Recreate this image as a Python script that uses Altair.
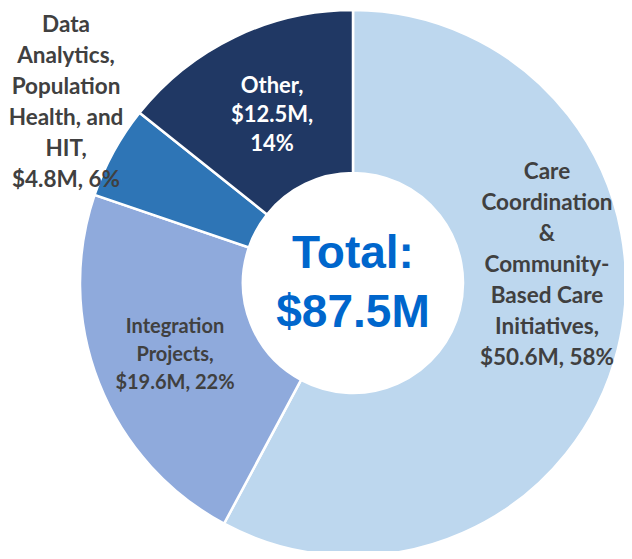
import altair as alt
import pandas as pd

categories = [
    "Care Coordination & Community-Based Care Initiatives",
    "Integration Projects",
    "Data Analytics, Population Health, and HIT",
    "Other",
]
values = [50.6, 19.6, 4.8, 12.5]
percents = [58, 22, 6, 14]
label_names = [
    ["Care", "Coordination", "&", "Community-", "Based Care", "Initiatives,"],
    ["Integration", "Projects,"],
    ["Data", "Analytics,", "Population", "Health, and", "HIT,"],
    ["Other,"],
]
colors = ["#BDD7EE", "#8FAADC", "#2E75B6", "#203864"]
total_label = ["Total:", "$87.5M"]

labels = []
for i, c in enumerate(categories):
    tail = f"${values[i]}M, {percents[i]}%"
    if c == "Other":
        lines = label_names[i] + [f"${values[i]}M,", f"{percents[i]}%"]
    else:
        lines = label_names[i] + [tail]
    labels.append("\n".join(lines))

df = pd.DataFrame({
    "category": categories,
    "value": values,
    "order": list(range(len(categories))),
    "label": labels,
})

CX, CY = 345, 275

arcs = alt.Chart(df).mark_arc(
    innerRadius=110, outerRadius=273, stroke="white", strokeWidth=2.5
).encode(
    theta=alt.Theta("value:Q", stack=True),
    order=alt.Order("order:O"),
    color=alt.Color("category:N", scale=alt.Scale(domain=categories, range=colors), legend=None),
    x=alt.value(CX),
    y=alt.value(CY),
)

label_style = [
    # (x, y of first line, fontSize, lineHeight, color)
    (539, 164, 22.5, 31, "#404040"),
    (167, 319, 20, 28, "#404040"),
    (58, 17, 22.5, 31, "#404040"),
    (264, 78, 22, 29, "#FFFFFF"),
]

layers = [arcs]
for cat, (lx, ly, fs, lh, col) in zip(categories, label_style):
    layers.append(
        alt.Chart(df).transform_filter(alt.datum.category == cat).mark_text(
            font="Lato", fontWeight="bold", fontSize=fs, lineHeight=lh,
            lineBreak="\n", align="center", baseline="middle", color=col,
        ).encode(text="label:N", x=alt.value(lx), y=alt.value(ly))
    )

tot_df = pd.DataFrame({"t": total_label, "i": [0, 1]})
for i, ty in enumerate([260, 319]):
    layers.append(
        alt.Chart(tot_df).transform_filter(alt.datum.i == i).mark_text(
            font="Liberation Sans", fontWeight="bold", fontSize=46,
            align="center", baseline="alphabetic", color="#0066CC",
        ).encode(text="t:N", x=alt.value(CX), y=alt.value(ty))
    )

chart = alt.layer(*layers).properties(
    width=616, height=543, padding=0,
    autosize=alt.AutoSizeParams(type="none"),
).configure_view(stroke=None)

chart.save("out.html", embed_options={"renderer": "svg", "actions": False})
